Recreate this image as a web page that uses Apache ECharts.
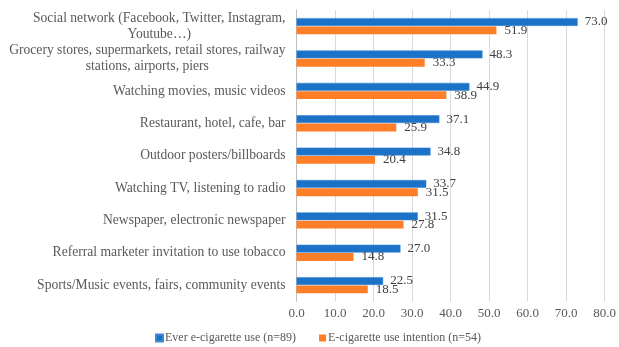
<!DOCTYPE html>
<html><head><meta charset="utf-8">
<script src="https://cdn.jsdelivr.net/npm/echarts@6/dist/echarts.min.js"></script>
<style>html,body{margin:0;padding:0;background:#fff}#c{width:619px;height:347px}</style>
</head><body><div id="c"></div>
<script>
const categories = [
  ["Social network (Facebook, Twitter, Instagram,", "Youtube…)"],
  ["Grocery stores, supermarkets, retail stores, railway", "stations, airports, piers"],
  ["Watching movies, music videos"],
  ["Restaurant, hotel, cafe, bar"],
  ["Outdoor posters/billboards"],
  ["Watching TV, listening to radio"],
  ["Newspaper, electronic newspaper"],
  ["Referral marketer invitation to use tobacco"],
  ["Sports/Music events, fairs, community events"]
];
const everUse = [73.0, 48.3, 44.9, 37.1, 34.8, 33.7, 31.5, 27.0, 22.5];
const intention = [51.9, 33.3, 38.9, 25.9, 20.4, 31.5, 27.8, 14.8, 18.5];
const seriesNames = ["Ever e-cigarette use (n=89)", "E-cigarette use intention (n=54)"];
const xTicks = {min: 0, max: 80, interval: 10};

const font = "'Liberation Serif', 'Times New Roman', serif";
const chart = echarts.init(document.getElementById('c'), null, {renderer: 'canvas'});
const catKeys = categories.map(l => l.join('\n'));
chart.setOption({
  animation: false,
  textStyle: {fontFamily: font},
  grid: {left: 296.5, right: 10, top: 10, bottom: 45.6, containLabel: false},
  legend: {
    top: 332, left: 155, padding: 0, itemWidth: 7, itemHeight: 7, itemGap: 23,
    icon: 'rect',
    textStyle: {fontFamily: font, fontSize: 12, color: '#595959', padding: [0,0,0,-3]},
    data: seriesNames
  },
  xAxis: {
    type: 'value', min: xTicks.min, max: xTicks.max, interval: xTicks.interval,
    axisLine: {show: false}, axisTick: {show: false},
    splitLine: {lineStyle: {color: '#d9d9d9', width: 1}},
    axisLabel: {fontFamily: font, fontSize: 13, color: '#595959', margin: 6,
      formatter: v => v.toFixed(1)}
  },
  yAxis: {
    type: 'category', inverse: true, data: catKeys,
    axisLine: {lineStyle: {color: '#bfbfbf'}}, axisTick: {show: false},
    axisLabel: {
      margin: 11, lineHeight: 15,
      formatter: v => v.split('\n').map(s => '{c|' + s + '}').join('\n'),
      rich: {c: {align: 'center', fontFamily: font, fontSize: 13.6, color: '#595959', lineHeight: 15.5}}
    }
  },
  series: [
    {name: seriesNames[0], type: 'bar', data: everUse, barCategoryGap: '50%', barGap: '6%',
     itemStyle: {color: '#1c72c6', borderColor: '#3d8ad6', borderWidth: 0.6},
     label: {show: true, position: 'right', distance: 7, fontFamily: font, fontSize: 13, color: '#404040',
       formatter: p => p.value.toFixed(1)}},
    {name: seriesNames[1], type: 'bar', data: intention,
     itemStyle: {color: '#fe7f27'},
     label: {show: true, position: 'right', distance: 8, fontFamily: font, fontSize: 13, color: '#404040',
       formatter: p => p.value.toFixed(1)}}
  ]
});
</script></body></html>
